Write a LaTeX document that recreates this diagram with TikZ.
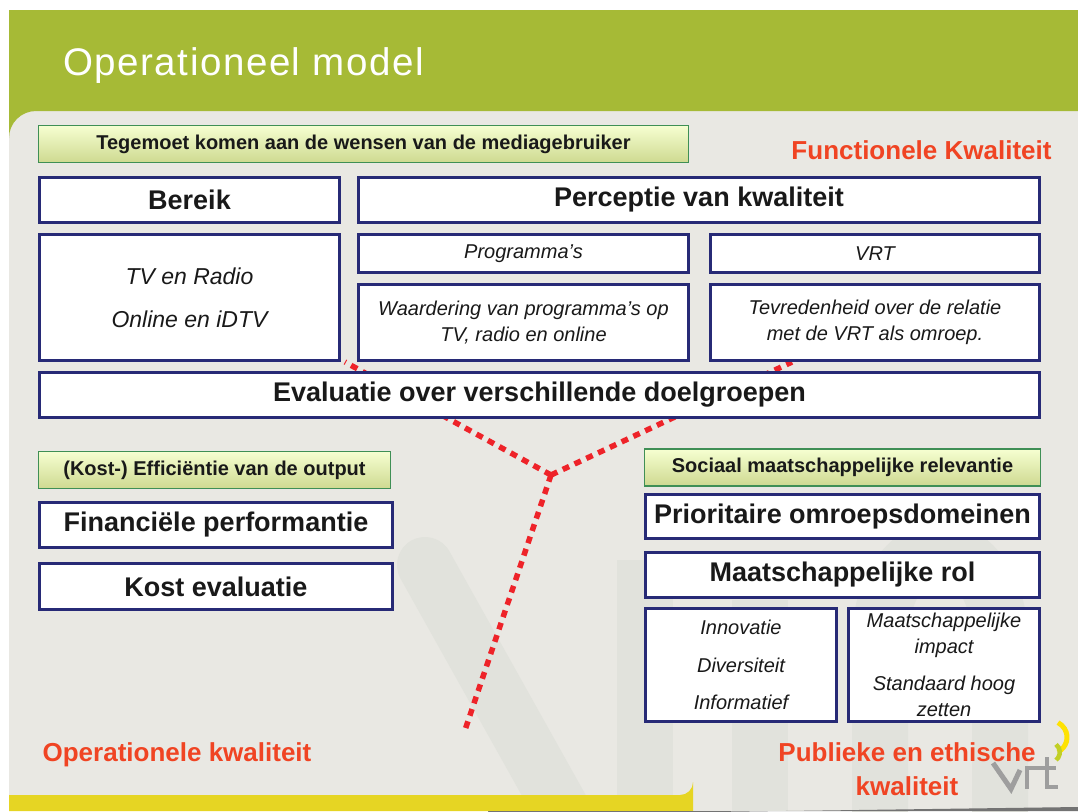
\documentclass[tikz,border=0pt]{standalone}
\usepackage{fontspec}
\setmainfont{Liberation Sans}
\usetikzlibrary{positioning}
\definecolor{slidegray}{HTML}{E9E8E3}
\definecolor{markgray}{HTML}{E1E2DC}
\definecolor{headgreen}{HTML}{A6BA36}
\definecolor{footyellow}{HTML}{E6D523}
\definecolor{boxblue}{HTML}{272A76}
\definecolor{kwalred}{HTML}{F04423}
\definecolor{dotred}{HTML}{EE2329}
\definecolor{tagline}{HTML}{3F8F55}
\tikzset{
 bigbox/.style={draw=boxblue,line width=2.6pt,fill=white,inner sep=0pt,text=black!90,font=\fontsize{25}{30}\selectfont\bfseries,align=center},
 headbox/.style={bigbox,font=\fontsize{27}{32}\selectfont\bfseries},
 smallbox/.style={bigbox,font=\fontsize{20}{26}\selectfont\itshape},
 tagbox/.style={draw=tagline,line width=1.2pt,top color=green!20!yellow!18!white,bottom color=headgreen!55!white,inner sep=0pt,text=black!90,font=\fontsize{20}{24}\selectfont\bfseries},
 kwaltext/.style={text=kwalred,font=\fontsize{26}{34}\selectfont\bfseries,align=center,inner sep=0pt},
 dotline/.style={draw=dotred,line width=5.5pt,dash pattern=on 7pt off 6pt},
}
\begin{document}
\begin{tikzpicture}[x=1pt,y=-1pt]
 \useasboundingbox (0,0) rectangle (1078,811);
 % slide background
 \fill[slidegray](9,10) rectangle (1078,811);
 \draw[markgray,line width=56pt,line cap=round](425,565)--(590,860);
 \draw[markgray,line width=56pt](645,560)--(645,811);
 \draw[markgray,line width=56pt](760,811)--(760,600);
 \draw[markgray,line width=56pt,line cap=round](880,811)--(880,640) arc (180:0:60 and -90)--(1000,811);
 \fill[headgreen](9,10)--(1078,10)--(1078,111)--(36,111) arc (270:180:27)--cycle;
 \fill[footyellow](9,795)--(680,795) arc (90:0:13)--(693,811)--(9,811)--cycle;
 \fill[black!55](488,811)--(488,811) arc (180:90:4)--(1078,807)--(1078,811)--cycle;
 \node[text=white,anchor=base west,inner sep=0pt,font=\fontsize{38.5}{40}\selectfont] (title) at (63,75) {\addfontfeature{LetterSpace=4}Operationeel model};
 % the three axes
 \coordinate (axis) at (551,475);
 \coordinate (axisop) at (465,730);
 \coordinate (axisfun) at (345,362);
 \coordinate (axispub) at (792,362);
 \draw[dotline](axis)--(axisfun);
 \draw[dotline](axis)--(axispub);
 \draw[dotline](axis)--(axisop);
 % functionele kwaliteit
 \node[tagbox,minimum width=650pt,minimum height=37pt] (wensen) at (363.5,144) {Tegemoet komen aan de wensen van de mediagebruiker};
 \node[kwaltext] (functioneel) at (921.5,150) {Functionele Kwaliteit};
 \node[headbox,minimum width=300pt,minimum height=45pt] (bereik) at (189.5,200) {Bereik};
 \node[headbox,minimum width=681pt,minimum height=45pt] (perceptie) at (699,200) {Perceptie van kwaliteit};
 \node[smallbox,font=\fontsize{23}{43}\selectfont\itshape,minimum width=300pt,minimum height=126pt] (kanalen) at (189.5,297.5) {TV en Radio\\Online en iDTV};
 \node[smallbox,minimum width=330pt,minimum height=38pt] (programmas) at (523.5,253.5) {Programma’s};
 \node[smallbox,minimum width=329pt,minimum height=38pt] (vrt) at (875,253.5) {VRT};
 \node[smallbox,minimum width=330pt,minimum height=76pt] (waardering) at (523.5,322.5) {Waardering van programma’s op\\TV, radio en online};
 \node[smallbox,minimum width=329pt,minimum height=76pt] (tevreden) at (875,322.5) {Tevredenheid over de relatie\\met de VRT als omroep.};
 \node[headbox,minimum width=1000pt,minimum height=45pt] (doelgroepen) at (539.5,395) {Evaluatie over verschillende doelgroepen};
 % operationele kwaliteit
 \node[tagbox,minimum width=352pt,minimum height=37pt] (efficientie) at (214.5,470) {(Kost-) Efficiëntie van de output};
 \node[headbox,minimum width=353pt,minimum height=45pt] (financieel) at (216,525) {Financiële performantie};
 \node[headbox,minimum width=353pt,minimum height=46pt] (kost) at (216,586.5) {Kost evaluatie};
 \node[kwaltext] (operationeel) at (177,755) {Operationele kwaliteit};
 % publieke en ethische kwaliteit
 \node[tagbox,minimum width=396pt,minimum height=37pt] (sociaal) at (842.5,467.5) {Sociaal maatschappelijke relevantie};
 \node[headbox,minimum width=394pt,minimum height=44pt] (domeinen) at (842.5,516.5) {Prioritaire omroepsdomeinen};
 \node[headbox,minimum width=394pt,minimum height=45pt] (rol) at (842.5,575) {Maatschappelijke rol};
 \node[smallbox,font=\fontsize{20}{37.5}\selectfont\itshape,minimum width=191pt,minimum height=113pt] (innovatie) at (741,665) {Innovatie\\Diversiteit\\Informatief};
 \node[smallbox,minimum width=191pt,minimum height=113pt] (impact) at (944,665) {Maatschappelijke\\impact\\[11pt]Standaard hoog\\zetten};
 \node[kwaltext] (publiek) at (907,769) {Publieke en ethische\\kwaliteit};
 % logo
 \draw[black!38,line width=5pt](993,763)--(1011,789)--(1020,770);
 \draw[black!38,line width=4.5pt](1027,789)--(1027,768)--(1040,768);
 \draw[black!38,line width=4.5pt](1047,757)--(1047,787)--(1058,787);
 \draw[black!38,line width=4.5pt](1040,768)--(1056,768);
 \draw[yellow!85!orange,line width=5pt](1058,752) arc (60:-60:18 and 17);
 \draw[headgreen!70!yellow,line width=4.5pt](1056,760) arc (60:-60:7.5 and 9);
\end{tikzpicture}
\end{document}
